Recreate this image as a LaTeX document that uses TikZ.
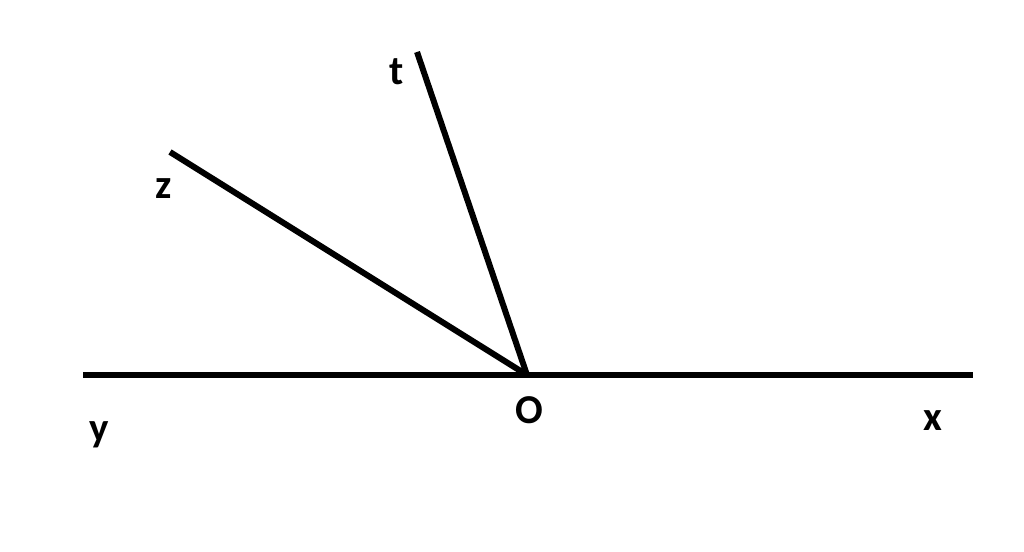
\documentclass[tikz,border=0pt]{standalone}
\usepackage{fontspec}
\setmainfont{Carlito}
\begin{document}
\begin{tikzpicture}[x=1bp,y=1bp,
  ray/.style={line width=6bp,black},
  lbl/.style={font=\fontsize{41bp}{45bp}\selectfont\bfseries,inner sep=0pt,anchor=center}]
\useasboundingbox (0,0) rectangle (1024,552);
\coordinate (O) at (527,177);
\coordinate (Y) at (83,177);
\coordinate (X) at (973,177);
\coordinate (Z) at (170,400);
\coordinate (T) at (417,500);
\draw[ray] (Y) -- (X);
\draw[ray] (O) -- (Z);
\draw[ray] (O) -- (T);
\node[lbl] (lt) at (397,480) {t};
\node[lbl] (lz) at (164,363) {z};
\node[lbl] (ly) at (99,117) {y};
\node[lbl] (lO) at (529,142) {O};
\node[lbl] (lx) at (933,131) {x};
\end{tikzpicture}
\end{document}
